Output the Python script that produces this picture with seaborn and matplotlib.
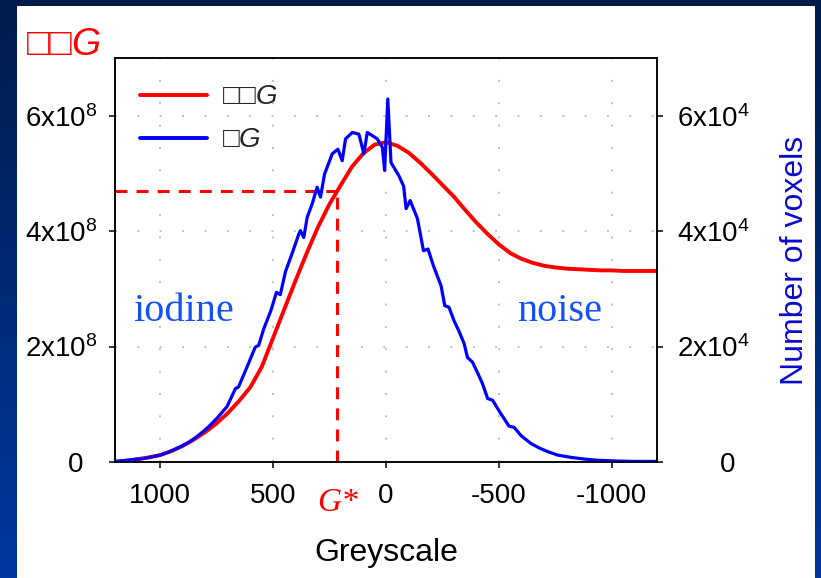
import numpy as np
import pandas as pd
import matplotlib
matplotlib.use("Agg")
import matplotlib.pyplot as plt
from matplotlib.colors import LinearSegmentedColormap
from matplotlib.patches import Rectangle
from matplotlib.lines import Line2D
import matplotlib.transforms as mtrans
import seaborn as sns

# --- Data ---
# smooth curve, left axis, units of 1e8
curve_grey = [1200, 1150, 1100, 1050, 1000, 950, 900, 850, 800, 750, 700, 650,
              600, 550, 500, 450, 400, 350, 300, 250, 200, 150, 100, 50, 0,
              -50, -100, -150, -200, -250, -300, -350, -400, -450, -500, -550,
              -600, -650, -700, -750, -800, -850, -900, -950, -1000, -1050,
              -1100, -1150, -1200]
curve_val = [0.00, 0.02, 0.05, 0.08, 0.12, 0.19, 0.28, 0.39, 0.52, 0.67, 0.85,
             1.06, 1.30, 1.65, 2.15, 2.65, 3.15, 3.63, 4.08, 4.47, 4.80, 5.12,
             5.35, 5.50, 5.54, 5.48, 5.36, 5.19, 5.00, 4.80, 4.60, 4.37, 4.15,
             3.95, 3.77, 3.62, 3.52, 3.45, 3.40, 3.37, 3.35, 3.34, 3.33, 3.32,
             3.32, 3.31, 3.31, 3.31, 3.31]

# histogram, right axis, units of 1e4
hist_grey = [1200, 1150, 1074, 1000, 970, 911, 870, 837, 800, 778, 748, 704,
             667, 653, 615, 579, 564, 541, 510, 485, 468, 445, 416, 386, 379,
             364, 349, 327, 305, 290, 272, 238, 213, 194, 179, 149, 120, 98,
             83, 39, 16, 6, -8, -22, -57, -78, -89, -107, -139, -166, -186,
             -210, -244, -260, -279, -301, -325, -346, -361, -383, -405, -427,
             -450, -472, -508, -545, -567, -600, -642, -680, -716, -760, -819,
             -880, -937, -1000, -1100, -1200]
hist_count = [0.01, 0.03, 0.06, 0.12, 0.16, 0.26, 0.35, 0.44, 0.56, 0.64, 0.76,
              0.96, 1.27, 1.30, 1.65, 1.99, 2.02, 2.31, 2.62, 2.94, 2.90, 3.30,
              3.61, 3.95, 4.01, 3.89, 4.24, 4.47, 4.76, 4.59, 4.99, 5.34, 5.42,
              5.22, 5.60, 5.71, 5.68, 5.34, 5.71, 5.60, 5.45, 5.05, 6.29, 5.19,
              4.96, 4.78, 4.39, 4.53, 4.22, 3.66, 3.69, 3.40, 3.05, 2.71, 2.68,
              2.45, 2.25, 2.05, 1.81, 1.73, 1.55, 1.36, 1.10, 1.07, 0.84, 0.62,
              0.60, 0.45, 0.32, 0.24, 0.18, 0.12, 0.08, 0.05, 0.03, 0.02, 0.01,
              0.01]

g_star = 215
g_star_val = 4.70  # units of 1e8

x_ticks = [1000, 500, 0, -500, -1000]
x_tick_labels = ["1000", "500", "0", "-500", "-1000"]
left_ticks = [0, 2e8, 4e8, 6e8]
left_labels = ["0\u2002", r"2x10$^{8}$", r"4x10$^{8}$", r"6x10$^{8}$"]
right_ticks = [0, 2e4, 4e4, 6e4]
right_labels = ["0\u2002", r"2x10$^{4}$", r"4x10$^{4}$", r"6x10$^{4}$"]

curve_label = "\u25a1\u25a1$\\mathit{G}$"
hist_label = "\u25a1$\\mathit{G}$"

RED = "#ff0000"
BLUE = "#0000ff"

# --- Style ---
sns.set_theme(style="white")
plt.rcParams["font.family"] = ["Liberation Sans", "DejaVu Sans"]
plt.rcParams["mathtext.fontset"] = "custom"
plt.rcParams["mathtext.rm"] = "Liberation Sans"
plt.rcParams["mathtext.it"] = "Liberation Sans:italic"
plt.rcParams["mathtext.default"] = "regular"

W, H = 821, 578
fig = plt.figure(figsize=(W / 100, H / 100), dpi=100)

# navy slide background with white panel
bg = fig.add_axes([0, 0, 1, 1], zorder=-10)
grad = np.linspace(0, 1, 256).reshape(-1, 1)
cmap = LinearSegmentedColormap.from_list("navy", ["#001a4a", "#0039a0"])
bg.imshow(grad, extent=[0, 1, 0, 1], aspect="auto", cmap=cmap, origin="upper")
bg.add_patch(Rectangle((17 / W, 0), (815 - 17) / W, (578 - 6) / H,
                       facecolor="white", edgecolor="none"))
bg.set_xlim(0, 1)
bg.set_ylim(0, 1)
bg.axis("off")

ax = fig.add_axes([115 / W, 1 - 462 / H, (657 - 115) / W, (462 - 58) / H])
ax.set_facecolor("white")
ax2 = ax.twinx()

curve_df = pd.DataFrame({"grey": curve_grey, "val": np.array(curve_val) * 1e8})
hist_df = pd.DataFrame({"grey": hist_grey, "count": np.array(hist_count) * 1e4})

sns.lineplot(data=curve_df, x="grey", y="val", ax=ax, color=RED,
             linewidth=2.8, legend=False)
sns.lineplot(data=hist_df, x="grey", y="count", ax=ax2, color=BLUE,
             linewidth=2.3, legend=False)

# G* guide lines
ax.plot([1200, g_star], [g_star_val * 1e8, g_star_val * 1e8], color=RED,
        lw=2.2, dashes=(3.9, 3.0))
ax.plot([g_star, g_star], [0, g_star_val * 1e8], color=RED,
        lw=2.2, dashes=(3.9, 3.0))

ax.set_xlim(1200, -1200)
ax.set_ylim(0, 7e8)
ax2.set_ylim(0, 7e4)

ax.set_xticks(x_ticks)
ax.set_xticklabels(x_tick_labels)
ax.set_yticks(left_ticks)
ax.set_yticklabels(left_labels)
ax2.set_yticks(right_ticks)
ax2.set_yticklabels(right_labels)
for lab in ax2.get_yticklabels():
    lab.set_horizontalalignment("right")

ax.tick_params(axis="x", direction="out", length=4.3, width=1.1, pad=11,
               labelsize=20, colors="black", bottom=True)
ax.tick_params(axis="y", direction="out", length=4.3, width=1.1, pad=8.5,
               labelsize=20, colors="black", left=True)
ax2.tick_params(axis="y", direction="out", length=4.3, width=1.1, pad=62.5,
                labelsize=20, colors="black", right=True)

for a in (ax, ax2):
    for sp in a.spines.values():
        sp.set_color("black")
        sp.set_linewidth(1.1)

ax.grid(True, color="#c0c0c0", linestyle=(0, (1, 10.5)), linewidth=1.4)
ax.set_axisbelow(True)

ax.set_xlabel("Greyscale", fontsize=23, labelpad=21, color="black")
ax.set_ylabel("")
ax2.set_ylabel("Number of voxels", fontsize=23, color="#0a0acc", labelpad=22)

handles = [Line2D([], [], color=RED, lw=2.8), Line2D([], [], color=BLUE, lw=2.8)]
leg = ax.legend(handles, [curve_label, hist_label], loc="upper left",
                bbox_to_anchor=(0.046, 0.935), frameon=False, borderaxespad=0,
                borderpad=0, handlelength=2.4, handletextpad=0.55,
                labelspacing=0.62, fontsize=20)

# annotations
ax.text(898, 2.6e8, "iodine", fontsize=29, color="#1550ff",
        family="Liberation Serif", ha="center", va="center")
ax.text(-770, 2.6e8, "noise", fontsize=29, color="#1550ff",
        family="Liberation Serif", ha="center", va="center")
trans = mtrans.blended_transform_factory(ax.transData, ax.transAxes)
ax.text(g_star, -0.1, "G*", transform=trans, fontsize=24, color=RED,
        family="Liberation Serif", style="italic", ha="center", va="center")

fig.text(26 / W, 1 - 55 / H, curve_label, fontsize=27, color=RED,
         ha="left", va="baseline")

fig.savefig("out.png", dpi=100)
